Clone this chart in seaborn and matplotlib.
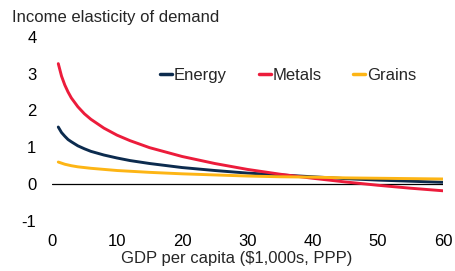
import matplotlib
matplotlib.use("Agg")
import matplotlib.pyplot as plt
from matplotlib.lines import Line2D
import pandas as pd
import seaborn as sns

# GDP per capita ($1,000s, PPP)
gdp = [1, 1.5, 2, 2.5, 3, 4, 5, 6, 8, 10, 12, 15, 20, 25, 30, 35, 40, 45, 50, 55, 60]
# income elasticities
energy = [1.55, 1.40, 1.30, 1.21, 1.15, 1.04, 0.96, 0.89, 0.79, 0.71, 0.64, 0.56,
          0.45, 0.37, 0.30, 0.25, 0.20, 0.15, 0.11, 0.08, 0.05]
metals = [3.27, 2.93, 2.69, 2.50, 2.34, 2.10, 1.91, 1.76, 1.52, 1.33, 1.18, 0.99,
          0.75, 0.56, 0.40, 0.27, 0.16, 0.06, -0.03, -0.11, -0.18]
grains = [0.60, 0.57, 0.54, 0.52, 0.50, 0.47, 0.45, 0.43, 0.40, 0.37, 0.35, 0.32,
          0.28, 0.25, 0.22, 0.20, 0.19, 0.17, 0.16, 0.15, 0.14]

series = ["Energy", "Metals", "Grains"]
colors = {"Energy": "#0c2b4e", "Metals": "#ec1c3b", "Grains": "#fdb515"}

df = pd.concat([
    pd.DataFrame({"gdp": gdp, "value": energy, "series": "Energy"}),
    pd.DataFrame({"gdp": gdp, "value": metals, "series": "Metals"}),
    pd.DataFrame({"gdp": gdp, "value": grains, "series": "Grains"}),
])

sns.set_style("white")
plt.rcParams["font.family"] = ["Liberation Sans", "DejaVu Sans"]
plt.rcParams["axes.unicode_minus"] = False
fs = 12

fig = plt.figure(figsize=(4.56, 2.71), dpi=100)
ax = fig.add_axes([0.1135, 0.1845, 0.858, 0.68])

ax.axhline(0, color="black", linewidth=0.9, zorder=1)
sns.lineplot(data=df, x="gdp", y="value", hue="series", hue_order=series,
             palette=colors, linewidth=2.1, legend=False, ax=ax, zorder=2)

ax.set_xlim(0, 60)
ax.set_ylim(-1, 4)
ax.set_xticks(range(0, 61, 10))
ax.set_yticks(range(-1, 5))
ax.tick_params(axis="both", length=0, labelsize=fs, colors="black")
ax.tick_params(axis="y", pad=11)
ax.tick_params(axis="x", pad=9)
for s in ax.spines.values():
    s.set_visible(False)
ax.set_xlabel("GDP per capita ($1,000s, PPP)", fontsize=fs)
ax.xaxis.set_label_coords(0.472, -0.165)
ax.set_ylabel("")

fig.text(0.026, 0.935, "Income elasticity of demand", fontsize=fs,
         ha="left", va="center")

handles = [Line2D([], [], color=colors[s], linewidth=2.5) for s in series]
ax.legend(handles, series, ncol=3, frameon=False, loc="center",
          bbox_to_anchor=(0.632, 0.723), bbox_transform=fig.transFigure,
          handlelength=0.72, handletextpad=0.1, columnspacing=1.9,
          fontsize=fs)

fig.savefig("out.png", dpi=100)
